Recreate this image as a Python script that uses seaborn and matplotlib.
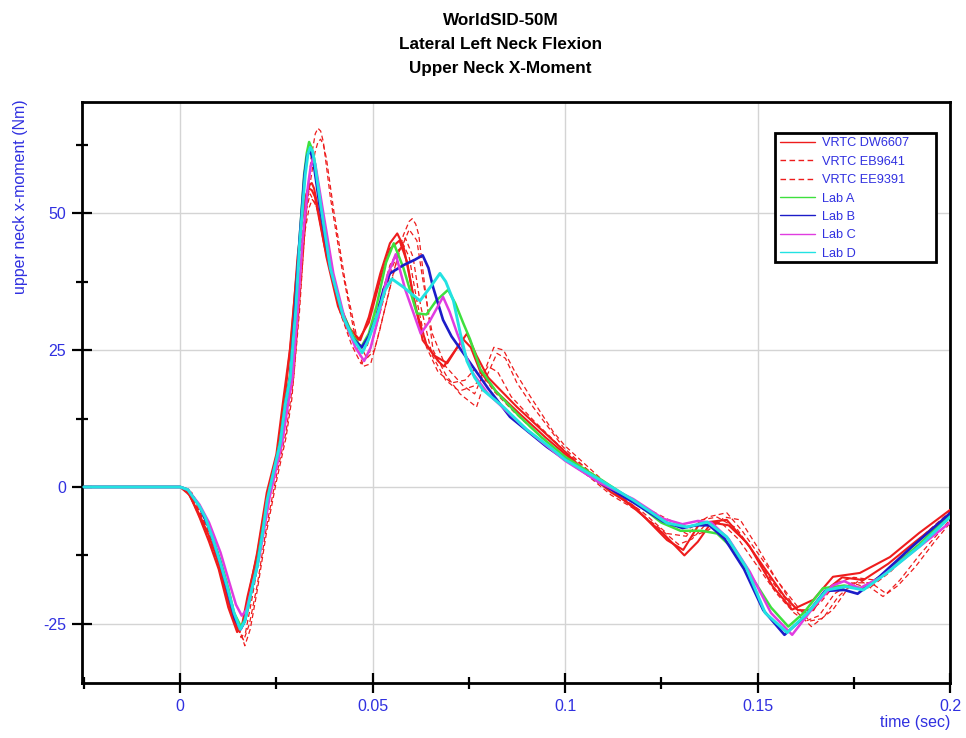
import numpy as np
import pandas as pd
import matplotlib
matplotlib.use("Agg")
import matplotlib.pyplot as plt
from matplotlib.lines import Line2D
from matplotlib.patches import Rectangle
from matplotlib.ticker import MultipleLocator
import seaborn as sns

# ---------------- data ----------------
dw_a_t = [-0.025, 0, 0.002, 0.005, 0.0075, 0.010, 0.0125, 0.0142, 0.015, 0.0158, 0.0165, 0.018, 0.020, 0.0225,
          0.025, 0.0268, 0.0285, 0.030, 0.0315, 0.033, 0.0336, 0.0342, 0.0348, 0.0355, 0.038, 0.041, 0.044,
          0.0468, 0.049, 0.052, 0.0545, 0.0564, 0.058, 0.060, 0.063, 0.066, 0.0694, 0.072, 0.0745, 0.077, 0.080,
          0.0875, 0.0987, 0.105, 0.112, 0.118, 0.1265, 0.1307, 0.135, 0.142, 0.148, 0.154, 0.159, 0.1645, 0.1696,
          0.1766, 0.1844, 0.192, 0.2]
dw_a_v = [0, 0, -1, -5, -9, -14, -21, -24.8, -26, -25.8, -25, -19, -12, -1,
          6, 16, 25, 37, 48, 54, 55.2, 55.5, 54.5, 52, 42, 33, 28,
          26.8, 31, 39, 44.5, 46.3, 44, 37, 26.8, 24, 22.6, 25.5, 28, 24, 20,
          14.6, 7.3, 3, -1, -3.6, -9.7, -11.5, -6.6, -6, -10.9, -18.2, -22.4, -20.6, -16.4,
          -15.7, -12.8, -8.4, -4.2]

dw_b_t = [-0.025, 0, 0.0025, 0.005, 0.0075, 0.010, 0.0125, 0.0148, 0.016, 0.0175, 0.020, 0.0225, 0.025, 0.027,
          0.029, 0.0305, 0.032, 0.0328, 0.0335, 0.0342, 0.035, 0.0375, 0.041, 0.044, 0.0465, 0.049, 0.052, 0.0545,
          0.057, 0.059, 0.061, 0.064, 0.067, 0.0685, 0.071, 0.0735, 0.0755, 0.078, 0.082, 0.088, 0.095, 0.1, 0.106,
          0.112, 0.119, 0.1255, 0.131, 0.1345, 0.138, 0.1425, 0.147, 0.152, 0.157, 0.1605, 0.1645, 0.1675, 0.172,
          0.1775, 0.184, 0.191, 0.2]
dw_b_v = [0, 0, -1.5, -5.5, -10, -15, -22, -26.5, -25.5, -20, -12.5, -2, 5, 15,
          28, 42, 51, 53.5, 54.5, 54.2, 53, 44, 34, 29, 27, 30, 38, 43.5,
          45, 41, 33, 26, 23, 22, 24.5, 27, 25.5, 21, 17.5, 13.5, 9, 6, 2.5,
          -0.5, -4.5, -8.5, -12.5, -10, -6.5, -7, -10, -15, -20, -22.5, -22.5, -19, -16.5,
          -17, -14, -10, -5]

eb_a_t = [-0.025, 0, 0.003, 0.006, 0.009, 0.012, 0.0145, 0.0168, 0.0182, 0.020, 0.0225, 0.025, 0.0275, 0.029,
          0.031, 0.0325, 0.034, 0.0351, 0.0358, 0.0365, 0.0372, 0.039, 0.042, 0.045, 0.0475, 0.0495, 0.052, 0.055,
          0.058, 0.0595, 0.0603, 0.0612, 0.062, 0.0635, 0.0657, 0.069, 0.0727, 0.077, 0.0795, 0.0823, 0.0845,
          0.0875, 0.0917, 0.0995, 0.106, 0.113, 0.12, 0.127, 0.1325, 0.137, 0.142, 0.146, 0.151, 0.156, 0.1605,
          0.164, 0.1696, 0.1735, 0.1766, 0.1826, 0.1865, 0.191, 0.196, 0.2]
eb_a_v = [0, 0, -1, -5, -10, -17, -24, -29, -26, -19, -8, 1, 9, 16,
          32, 48, 60, 64.5, 65.5, 65, 63, 53, 40, 29, 22, 22.5, 29, 38,
          46, 48.5, 49, 48, 46, 37, 25, 20.5, 17, 14.6, 20, 24.4, 23.5,
          19, 14.6, 7.3, 3, -1, -3.5, -6, -7.5, -5.5, -4.7, -8, -13, -18, -23,
          -25.5, -22.4, -18.5, -17, -20, -18, -14.6, -10, -6.6]

eb_b_t = [-0.025, 0, 0.003, 0.006, 0.009, 0.012, 0.0145, 0.0165, 0.018, 0.020, 0.0225, 0.025, 0.0275, 0.0295,
          0.0315, 0.033, 0.035, 0.0358, 0.0365, 0.0372, 0.038, 0.040, 0.043, 0.046, 0.0485, 0.0505, 0.053, 0.0565,
          0.0595, 0.0615, 0.063, 0.0655, 0.069, 0.0735, 0.0765, 0.079, 0.0815, 0.084, 0.087, 0.091, 0.097, 0.1,
          0.107, 0.114, 0.121, 0.1285, 0.133, 0.137, 0.1415, 0.1455, 0.15, 0.155, 0.16, 0.1635, 0.167, 0.171,
          0.175, 0.1795, 0.1835, 0.187, 0.192, 0.2]
eb_b_v = [0, 0, -1.5, -6, -11, -18, -25, -28, -25, -18, -7, 2, 10, 20,
          38, 52, 61, 63, 63.5, 62.5, 60, 50, 37, 27, 23.5, 25, 32, 42,
          47, 45, 38, 28, 22, 18.5, 17, 21, 25.5, 25, 21, 16.5, 10, 7.5,
          3, -1.5, -4, -7.5, -9, -8, -5.5, -6, -11, -17, -21.5, -24.5, -24, -20,
          -17.5, -17.5, -19.5, -17, -12.5, -6]

ee_a_t = [-0.025, 0, 0.0025, 0.005, 0.008, 0.011, 0.0135, 0.0158, 0.017, 0.0185, 0.0205, 0.023, 0.0255, 0.0275,
          0.0295, 0.031, 0.0325, 0.0335, 0.0343, 0.0351, 0.036, 0.0385, 0.0415, 0.0445, 0.047, 0.049, 0.052, 0.055,
          0.0578, 0.0595, 0.0615, 0.064, 0.067, 0.0705, 0.074, 0.0765, 0.0785, 0.0815, 0.087, 0.094, 0.1, 0.106,
          0.112, 0.118, 0.1245, 0.1295, 0.133, 0.137, 0.1405, 0.145, 0.15, 0.155, 0.1595, 0.1625, 0.166, 0.17,
          0.1745, 0.179, 0.1845, 0.191, 0.2]
ee_a_v = [0, 0, -1, -4.5, -9, -15, -22, -27.5, -26.5, -21, -13, -2, 5, 13,
          26, 38, 47, 51, 52.5, 51.8, 50, 41, 32, 26, 22.5, 24, 32, 40,
          44.5, 42, 34, 25.5, 21, 19, 19.5, 21.5, 20.5, 17.5, 13.5, 9, 5.5, 2,
          -1.5, -4, -7.5, -10.5, -9.5, -6.5, -6.5, -9.5, -14.5, -19.5, -23, -24.5, -23.5, -19.5,
          -17.5, -18.5, -15.5, -11, -5.5]

ee_b_t = [-0.025, 0, 0.0025, 0.005, 0.008, 0.011, 0.0135, 0.0155, 0.017, 0.019, 0.021, 0.0235, 0.026, 0.028,
          0.0295, 0.031, 0.0325, 0.0338, 0.0355, 0.038, 0.041, 0.044, 0.0465, 0.0485, 0.0515, 0.0545, 0.0585,
          0.0605, 0.0625, 0.0655, 0.069, 0.0725, 0.0765, 0.08, 0.0825, 0.086, 0.092, 0.1, 0.107, 0.114, 0.12,
          0.1265, 0.1315, 0.1355, 0.1395, 0.1445, 0.149, 0.154, 0.159, 0.163, 0.1665, 0.1705, 0.175, 0.1805,
          0.186, 0.192, 0.2]
ee_b_v = [0, 0, -1.5, -5.5, -10.5, -17, -23.5, -26.5, -24, -17, -9.5, 0, 7, 17,
          29, 42, 50, 53.5, 51, 43, 34, 28, 24.5, 25.5, 33, 40.5, 45.5,
          42, 33, 24, 19.5, 17.5, 18.5, 22, 21, 16.5, 12, 6.5, 2.5, -1.5, -4.5,
          -8.5, -9, -6, -5.5, -7.5, -12, -17.5, -22, -23, -21, -17.5, -16.5, -17,
          -14, -9.5, -4.5]

laba_t = [-0.025, 0, 0.002, 0.005, 0.0075, 0.0105, 0.0125, 0.014, 0.0158, 0.017, 0.0185, 0.020, 0.0215, 0.0228,
          0.0245, 0.026, 0.0273, 0.0285, 0.0298, 0.031, 0.0322, 0.0329, 0.0335, 0.0341, 0.0348, 0.0362, 0.0388,
          0.042, 0.045, 0.047, 0.049, 0.051, 0.0535, 0.0555, 0.058, 0.0615, 0.064, 0.0665, 0.0696, 0.0715, 0.0735,
          0.0753, 0.078, 0.082, 0.088, 0.094, 0.1, 0.109, 0.1177, 0.125, 0.13, 0.1355, 0.1395, 0.144, 0.149,
          0.1535, 0.158, 0.162, 0.167, 0.1725, 0.1775, 0.1835, 0.192, 0.2]
laba_v = [0, 0, -0.5, -3.5, -7.5, -13.5, -18.5, -23, -25.5, -24, -19, -14, -7.5, -2,
          3.5, 8.5, 15.5, 20, 32, 45, 57, 61, 63, 62, 60, 53, 41,
          32, 27.5, 25.5, 28, 33, 41, 44.5, 40, 31.7, 31.5, 34, 36, 33.5, 30,
          27, 21.5, 17.5, 13, 9, 5.5, 1.5, -2.5, -6.5, -8, -8, -8.5, -11.5, -17,
          -22, -25.5, -23, -18.5, -18, -18.5, -15.5, -10.5, -5]

labb_t = [-0.025, 0, 0.002, 0.005, 0.0075, 0.0105, 0.0125, 0.0142, 0.0157, 0.0168, 0.0185, 0.020, 0.0215, 0.0227,
          0.0245, 0.026, 0.0273, 0.0286, 0.0298, 0.031, 0.0323, 0.033, 0.0336, 0.0342, 0.0348, 0.0362, 0.039,
          0.0422, 0.045, 0.0472, 0.049, 0.051, 0.0528, 0.0545, 0.058, 0.061, 0.063, 0.0645, 0.0657, 0.0683, 0.0705,
          0.0745, 0.08, 0.0857, 0.0953, 0.1, 0.109, 0.1177, 0.1255, 0.1305, 0.134, 0.1375, 0.1415, 0.1465, 0.1515,
          0.157, 0.1625, 0.1675, 0.1725, 0.176, 0.1815, 0.19, 0.2]
labb_v = [0, 0, -0.5, -3.5, -7.5, -14, -19.5, -24, -26, -24.5, -19, -14.5, -8, -2.5,
          3.5, 8, 15, 20, 32, 45, 57, 60.5, 61.5, 60.5, 58.5, 51.5, 40,
          31.5, 27, 25.5, 27.5, 31, 36, 39, 40.5, 41.5, 42.3, 40, 36.5, 30.5, 27.5,
          23.5, 18, 12.8, 7.3, 5, 0.8, -2.8, -6.3, -7.5, -7, -7, -9.5, -15, -22.5,
          -27, -23.5, -19, -18.8, -19.5, -16.5, -11, -4.8]

labc_t = [-0.025, 0, 0.002, 0.005, 0.0075, 0.0105, 0.0128, 0.0145, 0.016, 0.0172, 0.0188, 0.0205, 0.022, 0.0232,
          0.025, 0.0265, 0.028, 0.0292, 0.0305, 0.0318, 0.0332, 0.0339, 0.0345, 0.0351, 0.0358, 0.0372, 0.0398,
          0.043, 0.0455, 0.0478, 0.0495, 0.0515, 0.0538, 0.056, 0.0585, 0.0625, 0.065, 0.0683, 0.07, 0.072, 0.076,
          0.08, 0.09, 0.1, 0.109, 0.1177, 0.1255, 0.1305, 0.1345, 0.138, 0.1425, 0.148, 0.1535, 0.159, 0.1645,
          0.1695, 0.1725, 0.1765, 0.182, 0.191, 0.2]
labc_v = [0, 0, -0.5, -3.2, -6.5, -12, -17.5, -21.5, -23.5, -22.5, -18, -13, -7, -2,
          3.5, 8, 15, 20, 32, 45, 55, 58.5, 60, 59, 56, 50, 39,
          30, 25.5, 23, 25.5, 31, 38.5, 42.5, 36, 28, 30.5, 34.7, 32, 28, 20.8,
          17, 10.5, 4.8, 0.8, -2.2, -5.8, -6.8, -6.2, -6.5, -9.5, -15.5, -23, -27, -22,
          -18, -17.2, -18.5, -16.5, -11.5, -6.5]

labd_t = [-0.025, 0, 0.002, 0.005, 0.0065, 0.0086, 0.0105, 0.0122, 0.014, 0.0156, 0.0168, 0.0185, 0.020, 0.0215,
          0.0226, 0.0245, 0.026, 0.0273, 0.0286, 0.030, 0.031, 0.0325, 0.0332, 0.0338, 0.0344, 0.035, 0.0364,
          0.039, 0.0424, 0.045, 0.0473, 0.049, 0.051, 0.0533, 0.055, 0.058, 0.0623, 0.065, 0.0675, 0.069, 0.071,
          0.0728, 0.0745, 0.0765, 0.0787, 0.084, 0.090, 0.096, 0.100, 0.109, 0.1177, 0.1265, 0.1317, 0.137, 0.142,
          0.147, 0.152, 0.1577, 0.163, 0.168, 0.173, 0.1775, 0.1836, 0.192, 0.2]
labd_v = [0, 0, -0.5, -3.5, -5.5, -9.7, -14, -18.2, -23, -26, -24.5, -19, -14.6, -8,
          -2.4, 3.5, 8, 15, 20, 32, 44, 57, 60.8, 62, 61.3, 59, 52,
          40, 31, 27, 24.5, 27, 31, 36, 38, 36.5, 34, 36.5, 39, 37.5, 34,
          28, 23, 20, 17.7, 14.6, 10.5, 7.3, 5, 1.3, -2.4, -6.6, -7.3, -6.4, -9.1,
          -14.6, -23, -26.6, -23, -18.8, -18.2, -18.8, -15.7, -10.9, -5.5]

legend_labels = ["VRTC DW6607", "VRTC EB9641", "VRTC EE9391", "Lab A", "Lab B", "Lab C", "Lab D"]
x_ticks = [0, 0.05, 0.1, 0.15, 0.2]
x_tick_labels = ["0", "0.05", "0.1", "0.15", "0.2"]
y_ticks = [-25, 0, 25, 50]
y_tick_labels = ["-25", "0", "25", "50"]

traces = [
    ("VRTC DW6607", "a", dw_a_t, dw_a_v),
    ("VRTC DW6607", "b", dw_b_t, dw_b_v),
    ("VRTC EB9641", "a", eb_a_t, eb_a_v),
    ("VRTC EB9641", "b", eb_b_t, eb_b_v),
    ("VRTC EE9391", "a", ee_a_t, ee_a_v),
    ("VRTC EE9391", "b", ee_b_t, ee_b_v),
    ("Lab A", "a", laba_t, laba_v),
    ("Lab B", "a", labb_t, labb_v),
    ("Lab C", "a", labc_t, labc_v),
    ("Lab D", "a", labd_t, labd_v),
]

rows = []
for name, rep, ts, vs in traces:
    for t, v in zip(ts, vs):
        rows.append({"series": name, "trace": name + "_" + rep, "time": t, "moment": v})
df = pd.DataFrame(rows)

# ---------------- style ----------------
RED = "#ee1c1c"
colors = {"VRTC DW6607": RED, "VRTC EB9641": RED, "VRTC EE9391": RED,
          "Lab A": "#3ee03e", "Lab B": "#1c1cc8", "Lab C": "#e03ce0", "Lab D": "#22e2e2"}
styles = {"VRTC DW6607": "-", "VRTC EB9641": (0, (4, 2.5)), "VRTC EE9391": (0, (4, 2.5)),
          "Lab A": "-", "Lab B": "-", "Lab C": "-", "Lab D": "-"}
widths = {"VRTC DW6607": 1.5, "VRTC EB9641": 0.9, "VRTC EE9391": 0.9,
          "Lab A": 1.8, "Lab B": 1.9, "Lab C": 1.8, "Lab D": 2.1}
TXT = "#3030e0"

sns.set_style("white")
plt.rcParams["font.family"] = ["Liberation Sans", "DejaVu Sans"]

fig = plt.figure(figsize=(9.66, 7.38), dpi=100)
ax = fig.add_axes([0.0849, 0.0745, 0.8985, 0.7873])

ax.grid(True, which="major", color="#d4d4d4", linewidth=1.0)
ax.set_axisbelow(True)

for z, (trace_id, sub) in enumerate(df.groupby("trace", sort=False)):
    name = sub["series"].iloc[0]
    sns.lineplot(data=sub, x="time", y="moment", ax=ax, estimator=None, sort=False,
                 color=colors[name], linestyle=styles[name], linewidth=widths[name],
                 legend=False, zorder=3 + z)
for ln in ax.get_lines():
    ln.set_solid_joinstyle("round")
    ln.set_dash_joinstyle("round")

ax.set_xlim(-0.0255, 0.2)
ax.set_ylim(-35.8, 70.3)
ax.set_xticks(x_ticks)
ax.set_xticklabels(x_tick_labels)
ax.set_yticks(y_ticks)
ax.set_yticklabels(y_tick_labels)
ax.xaxis.set_minor_locator(MultipleLocator(0.025))
ax.yaxis.set_minor_locator(MultipleLocator(12.5))
ax.tick_params(which="both", bottom=True, left=True, top=False, right=False)
ax.tick_params(which="major", direction="inout", length=15, width=1.6, colors="black",
               labelcolor=TXT, labelsize=11.5)
ax.tick_params(which="minor", direction="inout", length=9, width=1.6, colors="black")
ax.tick_params(axis="x", which="major", pad=4)
ax.tick_params(axis="y", which="major", pad=4)

for s in ax.spines.values():
    s.set_color("black")
    s.set_linewidth(2)

ax.set_xlabel("time (sec)", loc="right", color=TXT, fontsize=11.5)
ax.xaxis.set_label_coords(1.0, -0.055)
ax.set_ylabel("upper neck x-moment (Nm)", loc="top", color=TXT, fontsize=11.5)
ax.yaxis.set_label_coords(-0.062, 1.005)

fig.text(0.518, 0.982, "WorldSID-50M\nLateral Left Neck Flexion\nUpper Neck X-Moment",
         ha="center", va="top", fontsize=12.3, fontweight="bold", linespacing=1.75, color="black")

# legend box (frame drawn separately to match the reference padding)
bx0, bx1, by0, by1 = 0.798, 0.984, 0.7246, 0.9466
ax.add_patch(Rectangle((bx0, by0), bx1 - bx0, by1 - by0, transform=ax.transAxes,
                       facecolor="white", edgecolor="black", linewidth=2, zorder=19))
handles = [Line2D([], [], color=colors[n], linestyle=styles[n], linewidth=1.0) for n in legend_labels]
leg = ax.legend(handles, legend_labels, loc="upper left", bbox_to_anchor=(bx0 + 0.002, by1 - 0.002),
                frameon=False, fontsize=9.2, labelspacing=0.5, handlelength=2.8,
                handletextpad=0.55, borderpad=0.25, borderaxespad=0)
for t in leg.get_texts():
    t.set_color(TXT)
leg.set_zorder(20)

fig.savefig("out.png", dpi=100)
